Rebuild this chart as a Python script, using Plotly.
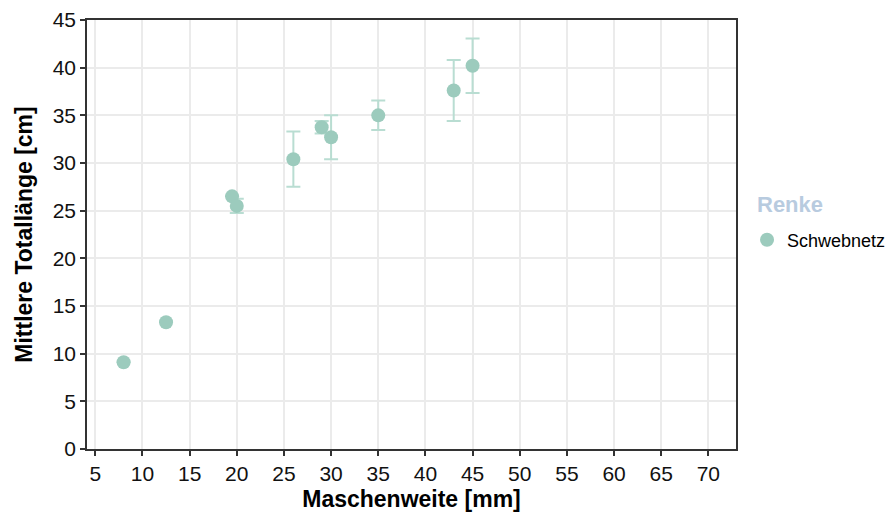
import plotly.graph_objects as go

# Mesh size [mm] and mean total length [cm] with standard deviation
maschenweite = [8, 12.5, 19.5, 20, 26, 29, 30, 35, 43, 45]
totallaenge = [9.1, 13.3, 26.5, 25.5, 30.4, 33.75, 32.7, 35.0, 37.6, 40.2]
std_abw = [0, 0, 0, 0.75, 2.9, 0.65, 2.3, 1.55, 3.2, 2.85]

x_ticks = list(range(5, 75, 5))
y_ticks = list(range(0, 50, 5))

FONT = "Liberation Sans, Arial"

fig = go.Figure()
fig.add_trace(go.Scatter(
    x=maschenweite,
    y=totallaenge,
    mode="markers",
    name="Schwebnetz",
    marker=dict(color="#9ccbbd", size=14, line=dict(width=0)),
    error_y=dict(type="data", array=std_abw, visible=True,
                 color="#b9ddd2", thickness=2, width=7),
))

axis_common = dict(
    showline=True, mirror=True, linecolor="#333333", linewidth=1.5,
    ticks="outside", ticklen=5, tickwidth=1.5, tickcolor="#333333",
    showgrid=True, gridcolor="#ebebeb", gridwidth=2,
    zeroline=False, automargin=False,
    tickfont=dict(family=FONT, size=21, color="#111111"),
    title_font=dict(family=FONT, size=23, color="black"),
)

fig.update_layout(
    width=891, height=518,
    margin=dict(l=87, r=155, t=20, b=69, autoexpand=False),
    paper_bgcolor="white", plot_bgcolor="white",
    font=dict(family=FONT, color="black"),
    xaxis=dict(axis_common, range=[4.12, 72.93], tickvals=x_ticks,
               title=dict(text="<b>Maschenweite [mm]</b>", standoff=7)),
    yaxis=dict(axis_common, range=[0, 45], tickvals=y_ticks,
               title=dict(text="<b>Mittlere Totallänge [cm]</b>", standoff=14)),
    showlegend=True,
    legend=dict(
        x=1.017, y=0.487, xanchor="left", yanchor="middle",
        font=dict(size=18, color="black", family=FONT),
        bgcolor="rgba(0,0,0,0)",
    ),
    annotations=[dict(
        text="<b>Renke</b>", xref="paper", yref="paper",
        x=1.029, y=0.569, xanchor="left", yanchor="middle", showarrow=False,
        font=dict(size=22, color="#b8cbdf", family=FONT),
    )],
)

fig.write_html("out.html")
